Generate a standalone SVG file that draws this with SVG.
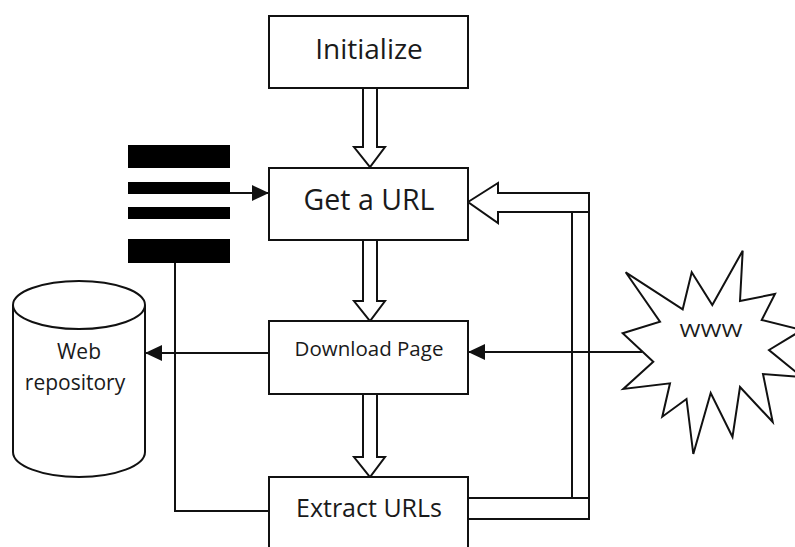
<svg xmlns="http://www.w3.org/2000/svg" width="795" height="547" viewBox="0 0 795 547">
<style>
.box{fill:#fff;stroke:#111;stroke-width:2}
.hollow{fill:#fff;stroke:#111;stroke-width:2;stroke-linejoin:miter}
.ln{fill:none;stroke:#111;stroke-width:2}
.bar{fill:#000}
.t{font-family:"Open Sans","Liberation Sans",sans-serif;fill:#1a1a1a;text-anchor:middle}
</style>
<defs>
<marker id="ah" viewBox="0 0 17 16" refX="17" refY="8" markerWidth="17" markerHeight="16" orient="auto" markerUnits="userSpaceOnUse">
<path d="M0,0 L17,8 L0,16 z" fill="#111"/>
</marker>
</defs>
<rect width="795" height="547" fill="#fff"/>

<g id="connectors">
<polygon class="hollow" points="363,88 377,88 377,147 385,147 370,167 354,147 363,147"/>
<polygon class="hollow" points="363,240 377,240 377,301 385,301 370,321 354,301 363,301"/>
<polygon class="hollow" points="363,394 377,394 377,457 385,457 370,477 354,457 363,457"/>
<polygon class="hollow" points="468,202 498,183 498,193 589,193 589,519 468,519 468,498 572,498 572,212 498,212 498,223"/>
<path class="ln" d="M572,212 H589 M572,498 H589"/>
<path class="ln" d="M220,193 H269" marker-end="url(#ah)"/>
<path class="ln" d="M175,263 V511 H269"/>
<path class="ln" d="M269,353 H145" marker-end="url(#ah)"/>
<path class="ln" d="M642,352 H468" marker-end="url(#ah)"/>
</g>

<g id="queue">
<rect class="bar" x="128" y="145" width="102" height="23"/>
<rect class="bar" x="128" y="182" width="102" height="12"/>
<rect class="bar" x="128" y="207" width="102" height="12"/>
<rect class="bar" x="128" y="239" width="102" height="24"/>
</g>

<g id="initialize">
<rect class="box" x="269" y="16" width="199" height="72"/>
<text class="t" x="369" y="59" font-size="28">Initialize</text>
</g>

<g id="get-url">
<rect class="box" x="269" y="168" width="199" height="72"/>
<text class="t" x="369" y="210" font-size="28.5">Get a URL</text>
</g>

<g id="download">
<rect class="box" x="269" y="321" width="199" height="73"/>
<text class="t" x="369" y="356" font-size="20.5">Download Page</text>
</g>

<g id="extract">
<rect class="box" x="269" y="477" width="199" height="90"/>
<text class="t" x="369" y="517" font-size="25">Extract URLs</text>
</g>

<g id="repository">
<path class="box" d="M13,305 V452 A66,25 0 0 0 145,452 V305"/>
<ellipse class="box" cx="79" cy="305" rx="66" ry="24"/>
<text class="t" x="79" y="359" font-size="21">Web</text>
<text class="t" x="75" y="390" font-size="21">repository</text>
</g>

<g id="www">
<polygon class="box" points="625.7,272.3 682.7,309.3 691.7,272.3 712.3,305 742.7,250.7 740,301 775,294 761.7,320 802,330 769,350 802,377 763,374 772.7,422 740,387 732.5,437 710.7,393 693.3,454 686.5,399 662.3,416.7 670,383.3 623.3,389 653.3,361.7 622.7,333.3 660,321.7"/>
<text class="t" x="711" y="337" font-size="19" textLength="63" lengthAdjust="spacingAndGlyphs">WWW</text>
</g>
</svg>
